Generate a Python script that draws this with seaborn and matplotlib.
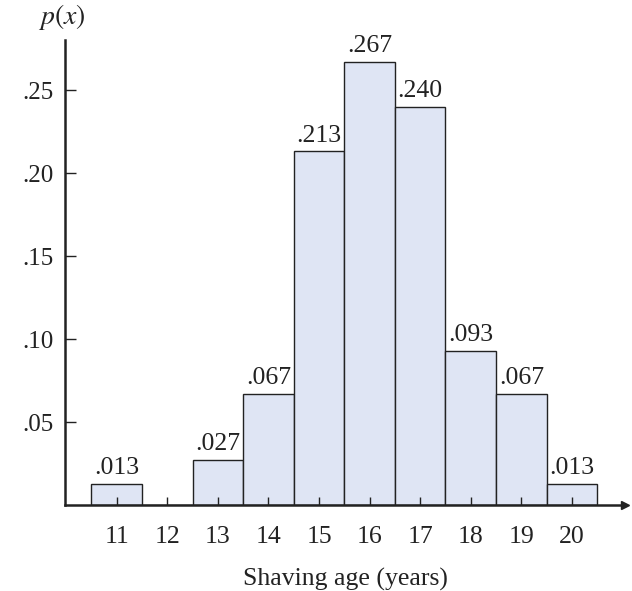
import matplotlib
matplotlib.use('Agg')
import matplotlib.pyplot as plt
import seaborn as sns

ages = [11, 12, 13, 14, 15, 16, 17, 18, 19, 20]
probs = [0.013, 0.0, 0.027, 0.067, 0.213, 0.267, 0.240, 0.093, 0.067, 0.013]
bar_labels = [".013", "", ".027", ".067", ".213", ".267", ".240", ".093", ".067", ".013"]
y_ticks = [0.05, 0.10, 0.15, 0.20, 0.25]
y_ticklabels = [".05", ".10", ".15", ".20", ".25"]

sns.set_style("white")
plt.rcParams['font.family'] = ['Liberation Serif', 'DejaVu Serif']
plt.rcParams['mathtext.fontset'] = 'stix'

fig = plt.figure(figsize=(6.32, 5.91), dpi=100)
ax = fig.add_axes([0.103, 0.145, 0.886, 0.787])

sns.barplot(x=ages, y=probs, native_scale=True, width=1.0, color="#dfe5f4",
            saturation=1, edgecolor="#222222", linewidth=1.0, ax=ax)

for x, y, lab in zip(ages, probs, bar_labels):
    if lab:
        ax.text(x, y + 0.003, lab, ha="center", va="bottom", fontsize=18.5, color="#222222")

ax.set_xlim(9.98, 21.05)
ax.set_ylim(0, 0.28)
ax.set_axisbelow(False)
ax.set_xticks(ages)
ax.set_xticklabels([str(a) for a in ages], fontsize=18.5, color="#222222")
ax.set_yticks(y_ticks)
ax.set_yticklabels(y_ticklabels, fontsize=18, color="#222222")
ax.tick_params(axis="x", bottom=True, direction="in", length=6, width=1, pad=15, color="#222222")
ax.tick_params(axis="y", left=True, direction="in", length=8, width=1, pad=8, color="#222222")

for side in ["top", "right"]:
    ax.spines[side].set_visible(False)
for side in ["left", "bottom"]:
    ax.spines[side].set_linewidth(1.8)
    ax.spines[side].set_color("#222222")

# arrow heads on the axes
ax.plot(1, 0, ">", color="#222222", markersize=6, transform=ax.get_yaxis_transform(), clip_on=False)
ax.plot(0, 1, "^", color="#222222", markersize=6, transform=ax.get_xaxis_transform(), clip_on=False)

ax.set_xlabel("Shaving age (years)", fontsize=18.5, color="#222222", labelpad=14)
ax.set_ylabel("")
fig.text(0.098, 0.972, r"$p(x)$", ha="center", va="center", fontsize=20, color="#222222")

fig.savefig("out.png", dpi=100, facecolor="white")
